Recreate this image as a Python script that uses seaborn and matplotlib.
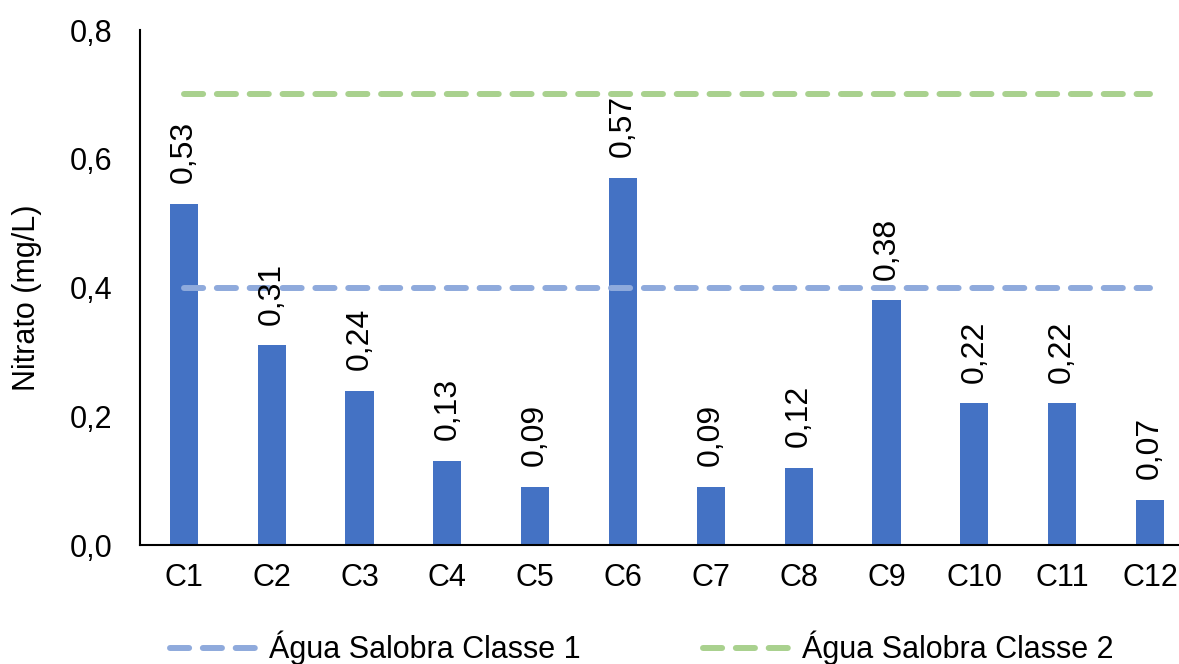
import pandas as pd
import matplotlib.pyplot as plt
import matplotlib.ticker as mtick
import seaborn as sns

sns.set_style("white")
plt.rcParams['font.family'] = ['Liberation Sans', 'DejaVu Sans']
plt.rcParams['text.color'] = 'black'

"""data"""
pontos = ['C1', 'C2', 'C3', 'C4', 'C5', 'C6', 'C7', 'C8', 'C9', 'C10', 'C11', 'C12']
nitrato = [0.53, 0.31, 0.24, 0.13, 0.09, 0.57, 0.09, 0.12, 0.38, 0.22, 0.22, 0.07]
limite_classe1 = 0.4
limite_classe2 = 0.7

df = pd.DataFrame({'Ponto': pontos, 'Nitrato': nitrato})

fig = plt.figure(figsize=(11.79, 6.64), dpi=100)
ax = fig.add_axes([0.1187, 0.1792, 0.894, 0.7756])

sns.barplot(data=df, x='Ponto', y='Nitrato', color='#4472C4',
            width=0.32, saturation=1, linewidth=0, ax=ax, zorder=2)

# limits (dashed lines across the categories)
x0, x1 = 0, len(pontos) - 1
dash = (0, (3.2, 2.3))
ax.plot([x0, x1], [limite_classe1] * 2, color='#8FAADC', lw=4.3,
        ls=dash, dash_capstyle='round', zorder=3,
        label='Água Salobra Classe 1')
ax.plot([x0, x1], [limite_classe2] * 2, color='#A9D18E', lw=4.3,
        ls=dash, dash_capstyle='round', zorder=3,
        label='Água Salobra Classe 2')

# data labels
for i, v in enumerate(nitrato):
    ax.annotate('{:.2f}'.format(v).replace('.', ','), (i, v),
                xytext=(0, 15), textcoords='offset points',
                rotation=90, ha='center', va='bottom', fontsize=23)

ax.set_xlim(-0.5, len(pontos) - 0.5)
ax.set_ylim(0, 0.8)
ax.yaxis.set_major_locator(mtick.MultipleLocator(0.2))
ax.yaxis.set_major_formatter(
    mtick.FuncFormatter(lambda v, p: '{:.1f}'.format(v).replace('.', ',')))
ax.tick_params(axis='both', labelsize=22, length=0, labelcolor='black')
ax.tick_params(axis='y', pad=20)
ax.tick_params(axis='x', pad=13)
ax.set_xlabel('')
ax.set_ylabel('Nitrato (mg/L)', fontsize=22, color='black')
ax.yaxis.set_label_coords(-0.093, 0.48)

for s in ['top', 'right']:
    ax.spines[s].set_visible(False)
for s in ['left', 'bottom']:
    ax.spines[s].set_color('black')
    ax.spines[s].set_linewidth(1.5)

leg = ax.legend(loc='center', bbox_to_anchor=(0.476, -0.2), ncol=2,
                frameon=False, fontsize=22, handlelength=2.8,
                columnspacing=4.0, handletextpad=0.45)

fig.savefig('out.png', dpi=100)
